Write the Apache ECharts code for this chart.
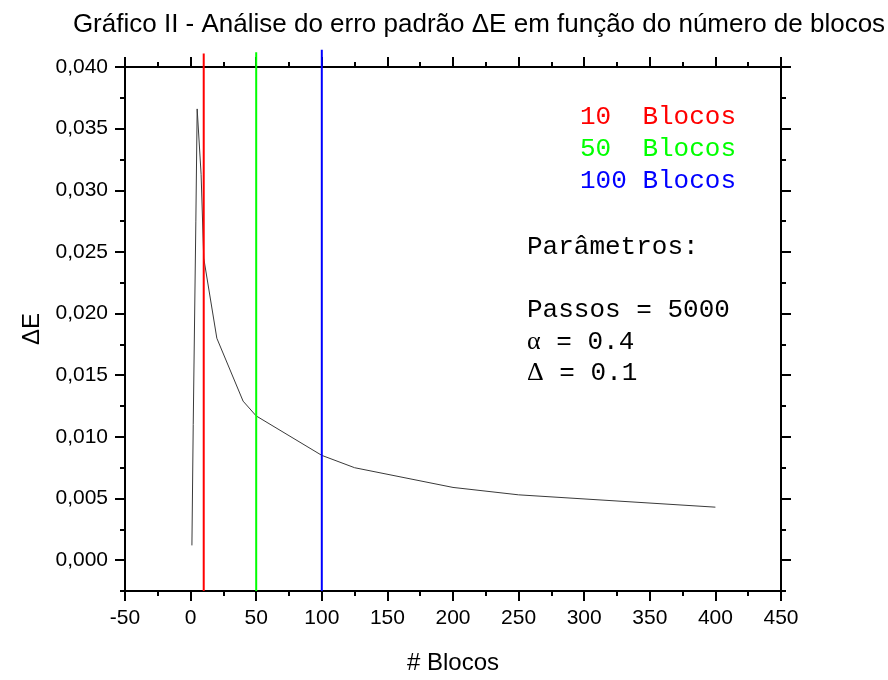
<!doctype html>
<html>
<head>
<meta charset="utf-8">
<title>Erro padrão x blocos</title>
<style>
  html,body{height:100%;margin:0;padding:0;background:#fff;}
  #chart{width:888px;height:680px;}
</style>
</head>
<body>
<div id="chart"></div>
<script src="https://cdn.jsdelivr.net/npm/echarts@6/dist/echarts.min.js"></script>
<script>
// numero de blocos e erro padrao
var blocos = [1, 2, 4, 5, 8, 10, 20, 40, 50, 100, 125, 200, 250, 400];
var deltaE = [0.0012, 0.0110, 0.0275, 0.0366, 0.0313, 0.0245, 0.0180, 0.0129, 0.0117, 0.0085, 0.0075, 0.0059, 0.0053, 0.0043];

// linhas verticais de referencia
var linhasX = [10, 50, 100];
var linhasTopo = [0.0411, 0.0412, 0.0414];
var linhasCor = ['#ff0000', '#00ff00', '#0000ff'];

var yMin = -0.0025, yMax = 0.040;
var yMajor = [0, 0.005, 0.010, 0.015, 0.020, 0.025, 0.030, 0.035, 0.040];

var font = 'Liberation Sans, Arial, sans-serif';
var mono = 'Liberation Mono, Courier New, monospace';

var chart = echarts.init(document.getElementById('chart'));

function eixoY(pos, major, labels) {
  var ax = {
    type: 'value', position: pos, min: yMin, max: yMax,
    splitLine: {show: false},
    axisLine: {show: !major, onZero: false, lineStyle: {color: '#000', width: 2}},
    axisTick: {show: true, inside: false, length: major ? 10 : 5, lineStyle: {color: '#000', width: 2}},
    axisLabel: {show: false}
  };
  if (major) {
    ax.axisTick.customValues = yMajor;
    if (labels) {
      ax.axisLabel = {
        show: true, customValues: yMajor, margin: 17,
        color: '#000', fontFamily: font, fontSize: 21,
        formatter: function (v) { return v.toFixed(3).replace('.', ','); }
      };
      ax.name = '\u0394E';
      ax.nameLocation = 'middle';
      ax.nameGap = 80;
      ax.nameRotate = 90;
      ax.nameTextStyle = {color: '#000', fontFamily: font, fontSize: 24};
    }
  } else {
    ax.interval = 0.0025;
  }
  return ax;
}

function eixoX(pos, labels) {
  return {
    type: 'value', position: pos, min: -50, max: 450, interval: 50,
    splitLine: {show: false},
    axisLine: {show: true, onZero: false, lineStyle: {color: '#000', width: 2}},
    axisTick: {show: true, inside: false, length: 10, lineStyle: {color: '#000', width: 2}},
    minorTick: {show: true, splitNumber: 2, length: 5, lineStyle: {color: '#000', width: 2}},
    axisLabel: {show: labels, margin: 17, color: '#000', fontFamily: font, fontSize: 21},
    name: labels ? '# Blocos' : '',
    nameLocation: 'middle', nameGap: 60,
    nameTextStyle: {color: '#000', fontFamily: font, fontSize: 24}
  };
}

var series = [{
  type: 'line',
  data: blocos.map(function (b, i) { return [b, deltaE[i]]; }),
  showSymbol: false,
  lineStyle: {color: '#3a3a3a', width: 1},
  z: 2
}];
linhasX.forEach(function (x, i) {
  series.push({
    type: 'line',
    data: [[x, yMin], [x, linhasTopo[i]]],
    showSymbol: false,
    clip: false,
    lineStyle: {color: linhasCor[i], width: 2},
    z: 3
  });
});

var rich = {
  s: {fontFamily: 'Liberation Serif, DejaVu Serif, serif', fontSize: 26, fill: '#000'}
};

var option = {
  backgroundColor: '#fff',
  animation: false,
  title: {
    text: 'Gráfico II - Análise do erro padrão \u0394E em função do número de blocos',
    left: 474, top: 7, textAlign: 'center',
    textStyle: {color: '#000', fontFamily: font, fontSize: 26, fontWeight: 'normal'}
  },
  grid: {left: 125, right: 107, top: 67, bottom: 79},
  xAxis: [eixoX('bottom', true), eixoX('top', false)],
  yAxis: [eixoY('left', false), eixoY('left', true, true), eixoY('right', false), eixoY('right', true, false)],
  series: series,
  graphic: [
    {type: 'text', left: 580, top: 104, style: {text: '10  Blocos', fill: '#ff0000', font: '26px ' + mono}},
    {type: 'text', left: 580, top: 136, style: {text: '50  Blocos', fill: '#00ff00', font: '26px ' + mono}},
    {type: 'text', left: 580, top: 168, style: {text: '100 Blocos', fill: '#0000ff', font: '26px ' + mono}},
    {type: 'text', left: 527, top: 234, style: {text: 'Parâmetros:', fill: '#000', font: '26px ' + mono}},
    {type: 'text', left: 527, top: 297, style: {text: 'Passos = 5000', fill: '#000', font: '26px ' + mono}},
    {type: 'text', left: 527, top: 329, style: {text: '{s|\u03b1} = 0.4', fill: '#000', font: '26px ' + mono, rich: rich}},
    {type: 'text', left: 527, top: 360, style: {text: '{s|\u0394} = 0.1', fill: '#000', font: '26px ' + mono, rich: rich}}
  ]
};
chart.setOption(option);
</script>
</body>
</html>
